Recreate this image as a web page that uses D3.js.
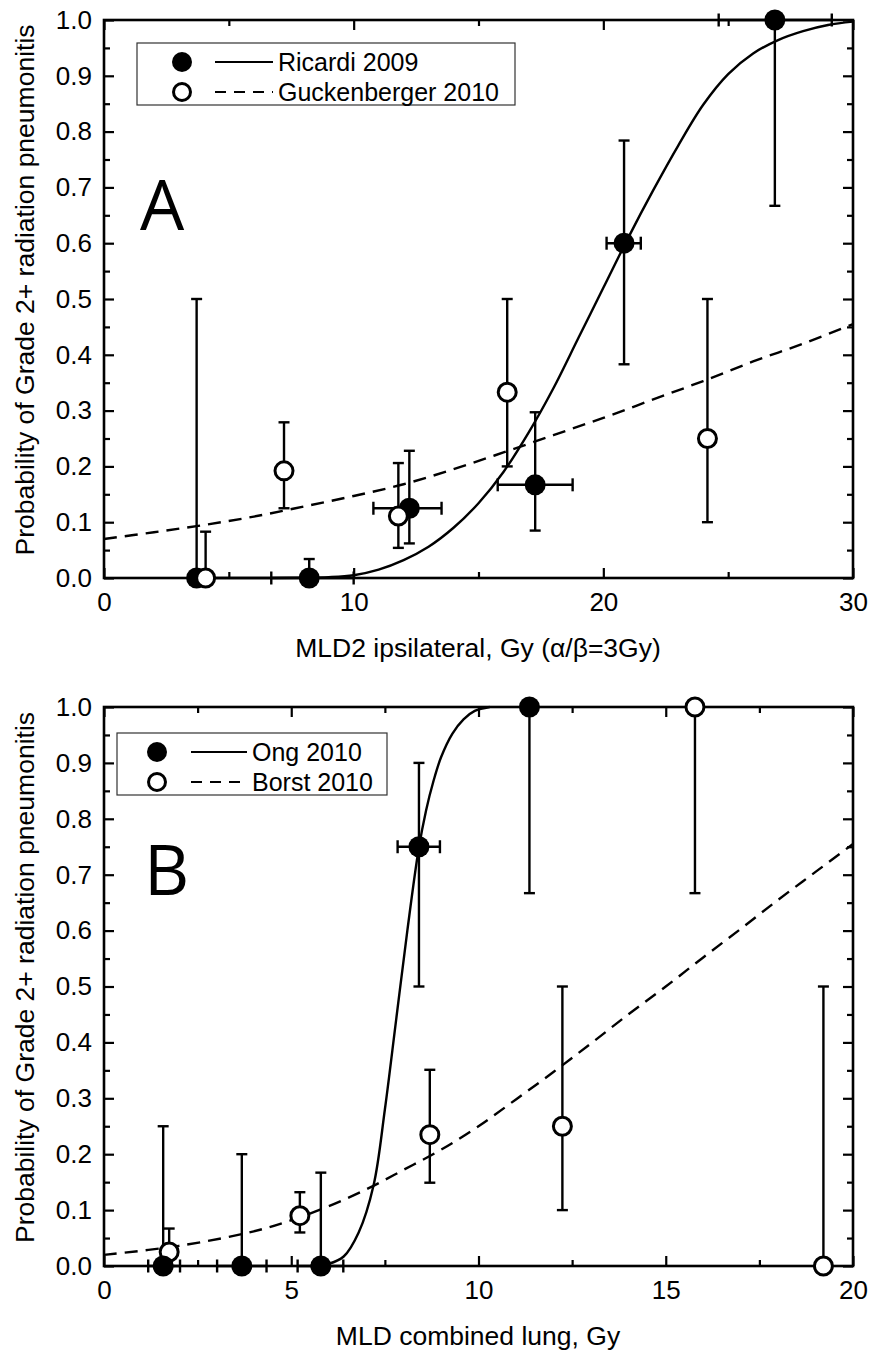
<!DOCTYPE html>
<html>
<head>
<meta charset="utf-8">
<script src="https://cdn.jsdelivr.net/npm/d3@7"></script>
<style>
  body { margin: 0; background: #fff; }
  svg { display: block; }
  text { font-family: "Liberation Sans", Arial, sans-serif; fill: #000; }
</style>
</head>
<body>
<div class="chart"></div>
<script>
// ---- panel A data (MLD2 ipsilateral) ----
const ricardiX    = [3.71, 8.22, 12.23, 17.27, 20.83, 26.87];
const ricardiY    = [0, 0, 0.125, 0.167, 0.6, 1.0];
const ricardiYLo  = [0, 0, 0.062, 0.085, 0.383, 0.667];
const ricardiYHi  = [0.5, 0.034, 0.228, 0.297, 0.784, 1.0];
const ricardiXLo  = [null, 6.7, 10.79, 15.77, 20.13, 24.62];
const ricardiXHi  = [null, 10.0, 13.52, 18.77, 21.5, 29.15];

const guckX   = [4.07, 7.21, 11.79, 16.15, 24.17];
const guckY   = [0, 0.192, 0.111, 0.333, 0.25];
const guckYLo = [0, 0.125, 0.054, 0.2, 0.1];
const guckYHi = [0.083, 0.279, 0.206, 0.5, 0.5];

const ricardiFitX = [4, 6, 8, 9, 10, 11, 12, 13, 14, 15, 16, 17, 18, 19, 20, 21, 22, 23, 24, 25, 26, 27, 28, 29, 30];
const ricardiFitY = [0, 0, 0.0005, 0.0015, 0.005, 0.015, 0.032, 0.056, 0.09, 0.134, 0.19, 0.26, 0.34, 0.43, 0.52, 0.61, 0.695, 0.775, 0.848, 0.903, 0.94, 0.964, 0.98, 0.991, 0.997];
const guckFitX = [0, 2, 4, 6, 8, 10, 12, 14, 16, 18, 20, 22, 24, 26, 28, 30];
const guckFitY = [0.07, 0.082, 0.095, 0.11, 0.128, 0.147, 0.168, 0.195, 0.225, 0.256, 0.287, 0.32, 0.353, 0.388, 0.42, 0.455];

// ---- panel B data (MLD combined lung) ----
const ongX   = [1.58, 3.68, 5.79, 8.41, 11.36];
const ongY   = [0, 0, 0, 0.75, 1.0];
const ongYLo = [0, 0, 0, 0.5, 0.667];
const ongYHi = [0.25, 0.2, 0.167, 0.9, 1.0];
const ongXLo = [1.18, 3.02, 5.17, 7.84, null];
const ongXHi = [2.03, 4.34, 6.39, 8.97, null];

const borstX   = [1.74, 5.23, 8.70, 12.24, 15.78, 19.21];
const borstY   = [0.025, 0.09, 0.235, 0.25, 1.0, 0];
const borstYLo = [0, 0.06, 0.149, 0.1, 0.667, 0];
const borstYHi = [0.067, 0.132, 0.351, 0.5, 1.0, 0.5];

const ongFitX = [5.5, 6.0, 6.4, 6.8, 7.2, 7.5, 7.8, 8.1, 8.4, 8.6, 8.8, 9.0, 9.3, 9.6, 9.9, 10.3];
const ongFitY = [0, 0.004, 0.017, 0.06, 0.145, 0.28, 0.44, 0.6, 0.745, 0.815, 0.868, 0.91, 0.952, 0.978, 0.993, 1.0];
const borstFitX = [0, 2, 4, 5, 6, 7, 8, 9, 10, 11, 12, 13, 14, 15, 16, 17, 18, 19, 20];
const borstFitY = [0.02, 0.036, 0.062, 0.082, 0.107, 0.137, 0.172, 0.208, 0.25, 0.298, 0.347, 0.398, 0.45, 0.5, 0.552, 0.603, 0.655, 0.705, 0.755];

// ---- ticks / labels ----
const yTicks = d3.range(0, 11).map(i => i / 10);
const yTickLabels = yTicks.map(d => d.toFixed(1));
const yMinor = d3.range(0, 10).map(i => i / 10 + 0.05);
const xTicksA = [0, 10, 20, 30];
const xMinorA = [5, 15, 25];
const xTicksB = [0, 5, 10, 15, 20];
const xMinorB = [2.5, 7.5, 12.5, 17.5];

const W = 871, H = 1351;
const svg = d3.select('.chart').append('svg')
    .attr('width', W)
    .attr('height', H);

function zip(xs, ys, lo, hi, xlo, xhi) {
    return xs.map((x, i) => ({
        x: x, y: ys[i], lo: lo[i], hi: hi[i],
        xlo: xlo ? xlo[i] : null, xhi: xhi ? xhi[i] : null
    }));
}

function drawPanel(p) {
    const g = svg.append('g');
    const x = d3.scaleLinear().domain(p.xDomain).range([104, 853]);
    const y = d3.scaleLinear().domain([0, 1]).range([p.bottom, p.top]);

    // inward ticks on all four sides
    const addTicks = (axis, tr, size) => {
        g.append('g').attr('transform', tr).call(axis.tickSizeOuter(0).tickSizeInner(size))
         .call(a => a.select('.domain').remove())
         .call(a => a.selectAll('line').attr('stroke', '#000').attr('stroke-width', 2.2));
    };
    addTicks(d3.axisBottom(x).tickValues(p.xMinor).tickFormat(''), `translate(0,${p.bottom})`, -6);
    addTicks(d3.axisTop(x).tickValues(p.xMinor).tickFormat(''), `translate(0,${p.top})`, -6);
    addTicks(d3.axisLeft(y).tickValues(yMinor).tickFormat(''), `translate(104,0)`, -6);
    addTicks(d3.axisRight(y).tickValues(yMinor).tickFormat(''), `translate(853,0)`, -6);
    addTicks(d3.axisTop(x).tickValues(p.xTicks).tickFormat(''), `translate(0,${p.top})`, -10);
    addTicks(d3.axisRight(y).tickValues(yTicks).tickFormat(''), `translate(853,0)`, -10);

    const xAxis = g.append('g').attr('transform', `translate(0,${p.bottom})`)
        .call(d3.axisBottom(x).tickValues(p.xTicks).tickSizeOuter(0).tickSizeInner(-10).tickPadding(15).tickFormat(d3.format('d')));
    const yAxis = g.append('g').attr('transform', 'translate(104,0)')
        .call(d3.axisLeft(y).tickValues(yTicks).tickSizeOuter(0).tickSizeInner(-10).tickPadding(12)
              .tickFormat((d, i) => yTickLabels[i]));
    [xAxis, yAxis].forEach(a => {
        a.select('.domain').remove();
        a.selectAll('line').attr('stroke', '#000').attr('stroke-width', 2.2);
        a.selectAll('text').style('font-family', '"Liberation Sans", Arial, sans-serif')
         .style('font-size', '26px').attr('fill', '#000');
    });

    // frame
    g.append('rect').attr('x', 104).attr('y', p.top)
        .attr('width', 749).attr('height', p.bottom - p.top)
        .attr('fill', 'none').attr('stroke', '#000').attr('stroke-width', 2.6);

    // fit curves
    const line = d3.line().x(d => x(d[0])).y(d => y(d[1])).curve(d3.curveCatmullRom.alpha(0.5));
    p.fits.forEach(f => {
        g.append('path')
            .datum(f.xs.map((v, i) => [v, f.ys[i]]))
            .attr('d', line)
            .attr('fill', 'none')
            .attr('stroke', '#000')
            .attr('stroke-width', 2.4)
            .attr('stroke-dasharray', f.dashed ? '13,8' : null);
    });

    // error bars + markers
    const cap = 5.5;
    p.series.forEach(s => {
        const eb = g.append('g').attr('stroke', '#000').attr('stroke-width', 2.4);
        s.data.forEach(d => {
            eb.append('line').attr('x1', x(d.x)).attr('x2', x(d.x)).attr('y1', y(d.lo)).attr('y2', y(d.hi));
            if (d.hi !== d.y) eb.append('line').attr('x1', x(d.x) - cap).attr('x2', x(d.x) + cap).attr('y1', y(d.hi)).attr('y2', y(d.hi));
            if (d.lo !== d.y) eb.append('line').attr('x1', x(d.x) - cap).attr('x2', x(d.x) + cap).attr('y1', y(d.lo)).attr('y2', y(d.lo));
            if (d.xlo !== null) {
                eb.append('line').attr('x1', x(d.xlo)).attr('x2', x(d.xhi)).attr('y1', y(d.y)).attr('y2', y(d.y));
                [d.xlo, d.xhi].forEach(v => eb.append('line').attr('x1', x(v)).attr('x2', x(v))
                    .attr('y1', y(d.y) - cap - 1).attr('y2', y(d.y) + cap + 1));
            }
        });
    });
    p.series.forEach(s => {
        g.selectAll(null).data(s.data).enter().append('circle')
            .attr('cx', d => x(d.x)).attr('cy', d => y(d.y))
            .attr('r', s.filled ? 10.5 : 9)
            .attr('fill', s.filled ? '#000' : '#fff')
            .attr('stroke', '#000')
            .attr('stroke-width', s.filled ? 0 : 3);
    });

    // legend
    const L = p.legend;
    g.append('rect').attr('x', L.x0).attr('y', L.y0).attr('width', L.w).attr('height', 62)
        .attr('fill', '#fff').attr('stroke', '#333').attr('stroke-width', 1.2);
    L.names.forEach((name, i) => {
        const cy = L.y0 + 19 + i * 30;
        g.append('circle').attr('cx', L.cx).attr('cy', cy)
            .attr('r', i === 0 ? 10 : 8.5)
            .attr('fill', i === 0 ? '#000' : '#fff').attr('stroke', '#000').attr('stroke-width', i === 0 ? 0 : 3);
        g.append('line').attr('x1', L.l1).attr('x2', L.l2).attr('y1', cy).attr('y2', cy)
            .attr('stroke', '#000').attr('stroke-width', 2.2)
            .attr('stroke-dasharray', i === 0 ? null : '11,8');
        g.append('text').attr('x', L.l2 + 5).attr('y', cy + 9)
            .style('font-size', '25px').text(name);
    });

    // big panel letter
    g.append('text').attr('x', p.letterX).attr('y', p.letterY)
        .style('font-family', '"Open Sans", sans-serif').style('font-size', '70px')
        .text(p.letter);

    // axis titles
    g.append('text').attr('x', 478).attr('y', p.bottom + 79)
        .attr('text-anchor', 'middle').style('font-size', '26.5px').text(p.xTitle);
    g.append('text')
        .attr('transform', `translate(34,${(p.top + p.bottom) / 2 - 9}) rotate(-90)`)
        .attr('text-anchor', 'middle').style('font-size', '26.5px')
        .text('Probability of Grade 2+ radiation pneumonitis');
}

drawPanel({
    top: 20, bottom: 578, xDomain: [0, 30], xTicks: xTicksA, xMinor: xMinorA,
    xTitle: 'MLD2 ipsilateral, Gy (\u03B1/\u03B2=3Gy)',
    letter: 'A', letterX: 140, letterY: 230,
    fits: [
        { xs: ricardiFitX, ys: ricardiFitY, dashed: false },
        { xs: guckFitX, ys: guckFitY, dashed: true }
    ],
    series: [
        { filled: true, data: zip(ricardiX, ricardiY, ricardiYLo, ricardiYHi, ricardiXLo, ricardiXHi) },
        { filled: false, data: zip(guckX, guckY, guckYLo, guckYHi) }
    ],
    legend: { x0: 137, y0: 43, w: 378, cx: 182, l1: 215, l2: 273, names: ['Ricardi 2009', 'Guckenberger 2010'] }
});

drawPanel({
    top: 707, bottom: 1266, xDomain: [0, 20], xTicks: xTicksB, xMinor: xMinorB,
    xTitle: 'MLD combined lung, Gy',
    letter: 'B', letterX: 144, letterY: 895,
    fits: [
        { xs: ongFitX, ys: ongFitY, dashed: false },
        { xs: borstFitX, ys: borstFitY, dashed: true }
    ],
    series: [
        { filled: false, data: zip(borstX, borstY, borstYLo, borstYHi) },
        { filled: true, data: zip(ongX, ongY, ongYLo, ongYHi, ongXLo, ongXHi) }
    ],
    legend: { x0: 117, y0: 733, w: 270, cx: 157, l1: 191, l2: 247, names: ['Ong 2010', 'Borst 2010'] }
});
</script>
</body>
</html>
